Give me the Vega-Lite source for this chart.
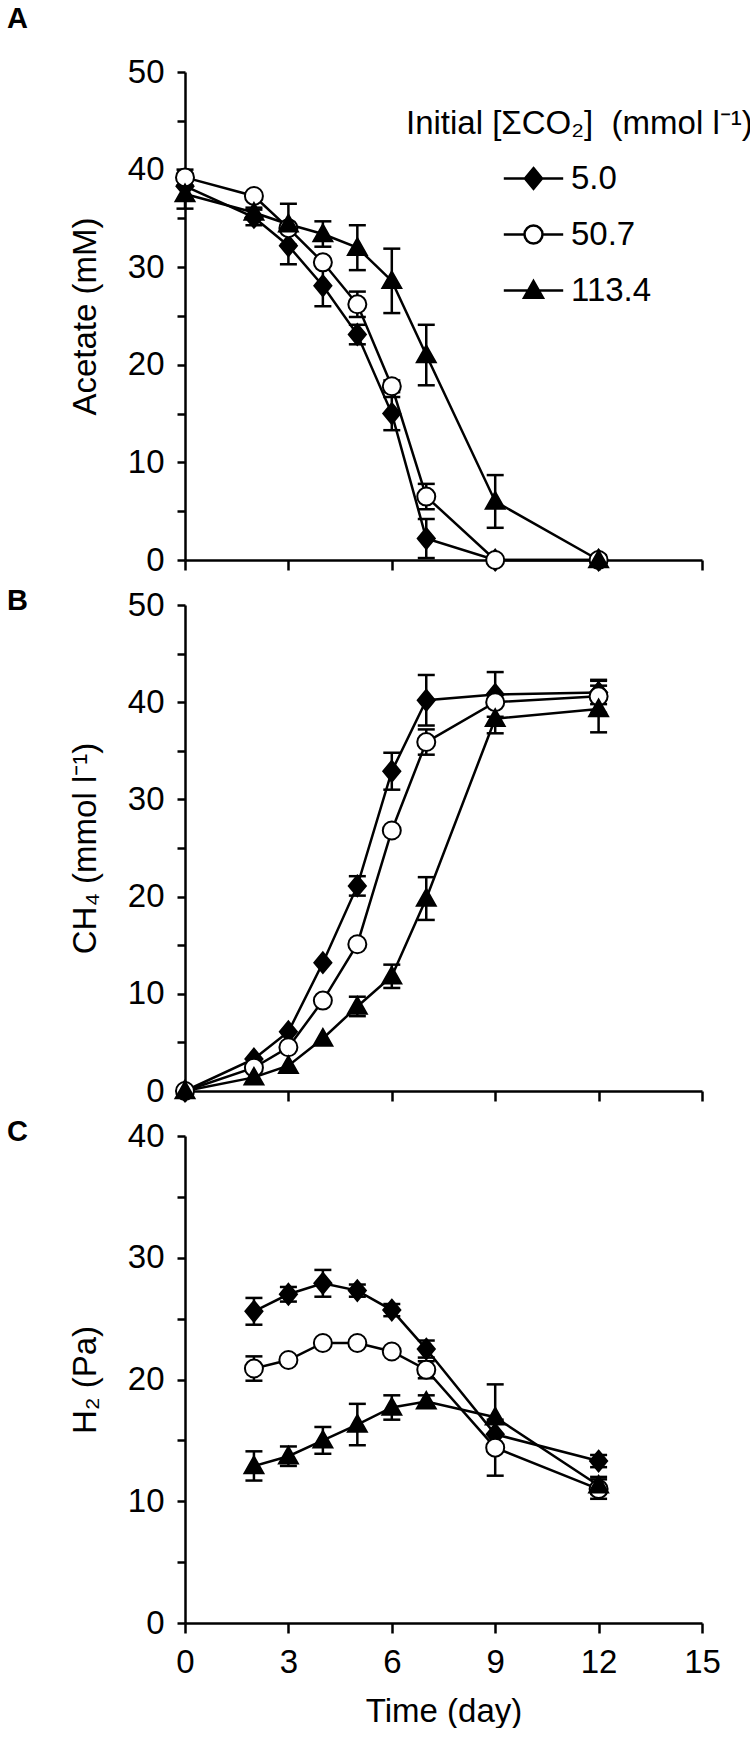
{
  "$schema": "https://vega.github.io/schema/vega-lite/v6.json",
  "background": "white",
  "padding": {"left": 7, "top": 5, "right": 0, "bottom": 0},
  "autosize": {"type": "pad"},
  "config": {
    "font": "Liberation Sans",
    "view": {"stroke": null},
    "axis": {
      "domainColor": "black", "domainWidth": 2.5, "tickColor": "black", "tickWidth": 2.5,
      "labelColor": "black", "labelFont": "Liberation Sans", "labelFontSize": 33,
      "titleFont": "Liberation Sans", "titleFontSize": 33, "titleFontWeight": "normal", "titleColor": "black",
      "grid": false, "labelFlush": false, "labelOverlap": false, "labelBound": false
    },
    "axisY": {"tickSize": 8, "labelPadding": 13, "titlePadding": 25},
    "axisX": {"tickSize": 10, "labelPadding": 13, "titlePadding": 16},
    "title": {"font": "Liberation Sans", "fontSize": 29, "fontWeight": "bold", "color": "black", "anchor": "start", "frame": "group", "baseline": "bottom", "offset": 0}
  },
  "datasets": {
    "A": [
      {"day": 0, "series": "5.0", "value": 38.3, "err": 0},
      {"day": 2, "series": "5.0", "value": 35.1, "err": 0.8},
      {"day": 3, "series": "5.0", "value": 32.2, "err": 1.9},
      {"day": 4, "series": "5.0", "value": 28.1, "err": 2.1},
      {"day": 5, "series": "5.0", "value": 23.1, "err": 1.0},
      {"day": 6, "series": "5.0", "value": 15.0, "err": 1.7},
      {"day": 7, "series": "5.0", "value": 2.2, "err": 2.0},
      {"day": 9, "series": "5.0", "value": 0, "err": 0},
      {"day": 12, "series": "5.0", "value": 0, "err": 0},
      {"day": 0, "series": "50.7", "value": 39.2, "err": 0.8},
      {"day": 2, "series": "50.7", "value": 37.3, "err": 0},
      {"day": 3, "series": "50.7", "value": 34.0, "err": 0},
      {"day": 4, "series": "50.7", "value": 30.5, "err": 0},
      {"day": 5, "series": "50.7", "value": 26.2, "err": 1.3},
      {"day": 6, "series": "50.7", "value": 17.8, "err": 0.6},
      {"day": 7, "series": "50.7", "value": 6.5, "err": 1.3},
      {"day": 9, "series": "50.7", "value": 0, "err": 0},
      {"day": 12, "series": "50.7", "value": 0, "err": 0},
      {"day": 0, "series": "113.4", "value": 37.5, "err": 1.5},
      {"day": 2, "series": "113.4", "value": 35.6, "err": 0.5},
      {"day": 3, "series": "113.4", "value": 34.4, "err": 2.1},
      {"day": 4, "series": "113.4", "value": 33.4, "err": 1.3},
      {"day": 5, "series": "113.4", "value": 32.0, "err": 2.3},
      {"day": 6, "series": "113.4", "value": 28.6, "err": 3.3},
      {"day": 7, "series": "113.4", "value": 21.0, "err": 3.1},
      {"day": 9, "series": "113.4", "value": 6.0, "err": 2.7},
      {"day": 12, "series": "113.4", "value": 0, "err": 0.5}
    ],
    "B": [
      {"day": 0, "series": "5.0", "value": 0, "err": 0},
      {"day": 2, "series": "5.0", "value": 3.3, "err": 0},
      {"day": 3, "series": "5.0", "value": 6.1, "err": 0},
      {"day": 4, "series": "5.0", "value": 13.2, "err": 0},
      {"day": 5, "series": "5.0", "value": 21.1, "err": 1.0},
      {"day": 6, "series": "5.0", "value": 32.9, "err": 1.9},
      {"day": 7, "series": "5.0", "value": 40.2, "err": 2.6},
      {"day": 9, "series": "5.0", "value": 40.8, "err": 2.3},
      {"day": 12, "series": "5.0", "value": 41.0, "err": 1.2},
      {"day": 0, "series": "50.7", "value": 0, "err": 0},
      {"day": 2, "series": "50.7", "value": 2.4, "err": 0},
      {"day": 3, "series": "50.7", "value": 4.5, "err": 0},
      {"day": 4, "series": "50.7", "value": 9.3, "err": 0},
      {"day": 5, "series": "50.7", "value": 15.1, "err": 0},
      {"day": 6, "series": "50.7", "value": 26.8, "err": 0},
      {"day": 7, "series": "50.7", "value": 35.9, "err": 1.3},
      {"day": 9, "series": "50.7", "value": 40.0, "err": 0},
      {"day": 12, "series": "50.7", "value": 40.6, "err": 1.7},
      {"day": 0, "series": "113.4", "value": 0, "err": 0},
      {"day": 2, "series": "113.4", "value": 1.4, "err": 0},
      {"day": 3, "series": "113.4", "value": 2.6, "err": 0},
      {"day": 4, "series": "113.4", "value": 5.4, "err": 0},
      {"day": 5, "series": "113.4", "value": 8.7, "err": 1.0},
      {"day": 6, "series": "113.4", "value": 11.8, "err": 1.2},
      {"day": 7, "series": "113.4", "value": 19.8, "err": 2.2},
      {"day": 9, "series": "113.4", "value": 38.3, "err": 1.5},
      {"day": 12, "series": "113.4", "value": 39.3, "err": 2.4}
    ],
    "C": [
      {"day": 2, "series": "5.0", "value": 25.6, "err": 1.1},
      {"day": 3, "series": "5.0", "value": 27.0, "err": 0.6},
      {"day": 4, "series": "5.0", "value": 27.9, "err": 1.1},
      {"day": 5, "series": "5.0", "value": 27.3, "err": 0.5},
      {"day": 6, "series": "5.0", "value": 25.7, "err": 0.5},
      {"day": 7, "series": "5.0", "value": 22.5, "err": 0.7},
      {"day": 9, "series": "5.0", "value": 15.5, "err": 0},
      {"day": 12, "series": "5.0", "value": 13.3, "err": 0.5},
      {"day": 2, "series": "50.7", "value": 20.9, "err": 1.0},
      {"day": 3, "series": "50.7", "value": 21.6, "err": 0},
      {"day": 4, "series": "50.7", "value": 23.0, "err": 0},
      {"day": 5, "series": "50.7", "value": 23.0, "err": 0},
      {"day": 6, "series": "50.7", "value": 22.3, "err": 0},
      {"day": 7, "series": "50.7", "value": 20.8, "err": 0.7},
      {"day": 9, "series": "50.7", "value": 14.4, "err": 2.3},
      {"day": 12, "series": "50.7", "value": 11.0, "err": 0.8},
      {"day": 2, "series": "113.4", "value": 12.9, "err": 1.2},
      {"day": 3, "series": "113.4", "value": 13.7, "err": 0.8},
      {"day": 4, "series": "113.4", "value": 15.0, "err": 1.1},
      {"day": 5, "series": "113.4", "value": 16.3, "err": 1.7},
      {"day": 6, "series": "113.4", "value": 17.7, "err": 1.0},
      {"day": 7, "series": "113.4", "value": 18.2, "err": 0.5},
      {"day": 9, "series": "113.4", "value": 16.9, "err": 2.7},
      {"day": 12, "series": "113.4", "value": 11.3, "err": 0.7}
    ]
  },
  "spacing": 45,
  "bounds": "flush",
  "resolve": {"scale": {"y": "independent", "shape": "independent", "fill": "independent"}, "legend": {"shape": "independent", "fill": "independent"}},
  "vconcat": [
    {
      "width": 517,
      "height": 488,
      "title": {"text": "A", "dx": -178, "dy": -18},
      "data": {"name": "A"},
      "encoding": {
        "x": {"field": "day", "type": "quantitative", "scale": {"domain": [0, 15], "nice": false}, "axis": {"values": [0, 3, 6, 9, 12, 15], "labels": false, "title": null}},
        "y": {"field": "value", "type": "quantitative", "scale": {"domain": [0, 50], "nice": false}, "axis": {"values": [0, 5, 10, 15, 20, 25, 30, 35, 40, 45, 50], "labelExpr": "datum.value % 10 === 0 ? datum.label : ''", "title": "Acetate (mM)"}}
      },
      "resolve": {"scale": {"shape": "independent", "fill": "independent"}, "legend": {"shape": "independent", "fill": "independent"}},
      "layer": [
        {"mark": {"type": "line", "color": "black", "strokeWidth": 2.5}, "encoding": {"detail": {"field": "series", "type": "nominal"}}},
        {"transform": [{"filter": "datum.err > 0"}], "mark": {"type": "errorbar", "color": "black", "opacity": 1, "thickness": 2.5, "rule": {"color": "black", "strokeWidth": 2.5, "opacity": 1}, "ticks": {"size": 17, "color": "black", "thickness": 2.5, "opacity": 1}}, "encoding": {"yError": {"field": "err"}}},
        {
          "mark": {"type": "point", "filled": true, "stroke": "black", "strokeWidth": 2, "size": 324, "opacity": 1},
          "encoding": {
            "shape": {"field": "series", "type": "nominal", "scale": {"domain": ["5.0", "50.7", "113.4"], "range": ["M0,-1.15L0.95,0L0,1.15L-0.95,0Z", "circle", "M0,-1.05L1.05,0.8L-1.05,0.8Z"]}, "legend": null},
            "fill": {"field": "series", "type": "nominal", "scale": {"domain": ["5.0", "50.7", "113.4"], "range": ["black", "white", "black"]}, "legend": null}
          }
        },
        {
          "transform": [{"filter": "datum.day < 0"}],
          "mark": {"type": "point", "filled": false, "color": "black", "strokeWidth": 2.5, "size": 324, "opacity": 1},
          "encoding": {
            "shape": {"field": "series", "type": "nominal", "scale": {"domain": ["5.0", "50.7", "113.4"], "range": ["M-3.3,0L3.3,0M0,-1.15L0.95,0L0,1.15L-0.95,0Z", "M-3.3,0L-1,0M1,0L3.3,0M1,0A1,1,0,1,1,-1,0A1,1,0,1,1,1,0Z", "M-3.3,0L3.3,0M0,-1.05L1.05,0.8L-1.05,0.8Z"]},
              "legend": {"title": "Initial [ΣCO₂] \u00a0(mmol l⁻¹)", "orient": "none", "legendX": 221, "legendY": 36, "padding": 0,
                "titleFontSize": 33, "titleFontWeight": "normal", "titleColor": "black", "titleLimit": 1000, "titlePadding": 21,
                "labelFontSize": 33, "labelColor": "black", "labelLimit": 500, "labelOffset": 21,
                "symbolSize": 324, "symbolStrokeWidth": 2.5, "symbolOffset": 111, "rowPadding": 22}},
            "fill": {"field": "series", "type": "nominal", "scale": {"domain": ["5.0", "50.7", "113.4"], "range": ["black", "white", "black"]},
              "legend": {"title": "Initial [ΣCO₂] \u00a0(mmol l⁻¹)", "orient": "none", "legendX": 221, "legendY": 36, "padding": 0,
                "titleFontSize": 33, "titleFontWeight": "normal", "titleColor": "black", "titleLimit": 1000, "titlePadding": 21,
                "labelFontSize": 33, "labelColor": "black", "labelLimit": 500, "labelOffset": 21,
                "symbolSize": 324, "symbolStrokeWidth": 2.5, "symbolOffset": 111, "rowPadding": 22}}
          }
        }
      ]
    },
    {
      "width": 517,
      "height": 486,
      "title": {"text": "B", "dx": -178, "dy": 31},
      "data": {"name": "B"},
      "encoding": {
        "x": {"field": "day", "type": "quantitative", "scale": {"domain": [0, 15], "nice": false}, "axis": {"values": [0, 3, 6, 9, 12, 15], "labels": false, "title": null}},
        "y": {"field": "value", "type": "quantitative", "scale": {"domain": [0, 50], "nice": false}, "axis": {"values": [0, 5, 10, 15, 20, 25, 30, 35, 40, 45, 50], "labelExpr": "datum.value % 10 === 0 ? datum.label : ''", "title": "CH₄ (mmol l⁻¹)"}}
      },
      "layer": [
        {"mark": {"type": "line", "color": "black", "strokeWidth": 2.5}, "encoding": {"detail": {"field": "series", "type": "nominal"}}},
        {"transform": [{"filter": "datum.err > 0"}], "mark": {"type": "errorbar", "color": "black", "opacity": 1, "thickness": 2.5, "rule": {"color": "black", "strokeWidth": 2.5, "opacity": 1}, "ticks": {"size": 17, "color": "black", "thickness": 2.5, "opacity": 1}}, "encoding": {"yError": {"field": "err"}}},
        {
          "mark": {"type": "point", "filled": true, "stroke": "black", "strokeWidth": 2, "size": 324, "opacity": 1},
          "encoding": {
            "shape": {"field": "series", "type": "nominal", "scale": {"domain": ["5.0", "50.7", "113.4"], "range": ["M0,-1.15L0.95,0L0,1.15L-0.95,0Z", "circle", "M0,-1.05L1.05,0.8L-1.05,0.8Z"]}, "legend": null},
            "fill": {"field": "series", "type": "nominal", "scale": {"domain": ["5.0", "50.7", "113.4"], "range": ["black", "white", "black"]}, "legend": null}
          }
        }
      ]
    },
    {
      "width": 517,
      "height": 487,
      "title": {"text": "C", "dx": -178, "dy": 31},
      "data": {"name": "C"},
      "encoding": {
        "x": {"field": "day", "type": "quantitative", "scale": {"domain": [0, 15], "nice": false}, "axis": {"values": [0, 3, 6, 9, 12, 15], "title": "Time (day)"}},
        "y": {"field": "value", "type": "quantitative", "scale": {"domain": [0, 40], "nice": false}, "axis": {"values": [0, 5, 10, 15, 20, 25, 30, 35, 40], "labelExpr": "datum.value % 10 === 0 ? datum.label : ''", "title": "H₂ (Pa)"}}
      },
      "layer": [
        {"mark": {"type": "line", "color": "black", "strokeWidth": 2.5}, "encoding": {"detail": {"field": "series", "type": "nominal"}}},
        {"transform": [{"filter": "datum.err > 0"}], "mark": {"type": "errorbar", "color": "black", "opacity": 1, "thickness": 2.5, "rule": {"color": "black", "strokeWidth": 2.5, "opacity": 1}, "ticks": {"size": 17, "color": "black", "thickness": 2.5, "opacity": 1}}, "encoding": {"yError": {"field": "err"}}},
        {
          "mark": {"type": "point", "filled": true, "stroke": "black", "strokeWidth": 2, "size": 324, "opacity": 1},
          "encoding": {
            "shape": {"field": "series", "type": "nominal", "scale": {"domain": ["5.0", "50.7", "113.4"], "range": ["M0,-1.15L0.95,0L0,1.15L-0.95,0Z", "circle", "M0,-1.05L1.05,0.8L-1.05,0.8Z"]}, "legend": null},
            "fill": {"field": "series", "type": "nominal", "scale": {"domain": ["5.0", "50.7", "113.4"], "range": ["black", "white", "black"]}, "legend": null}
          }
        }
      ]
    }
  ]
}
